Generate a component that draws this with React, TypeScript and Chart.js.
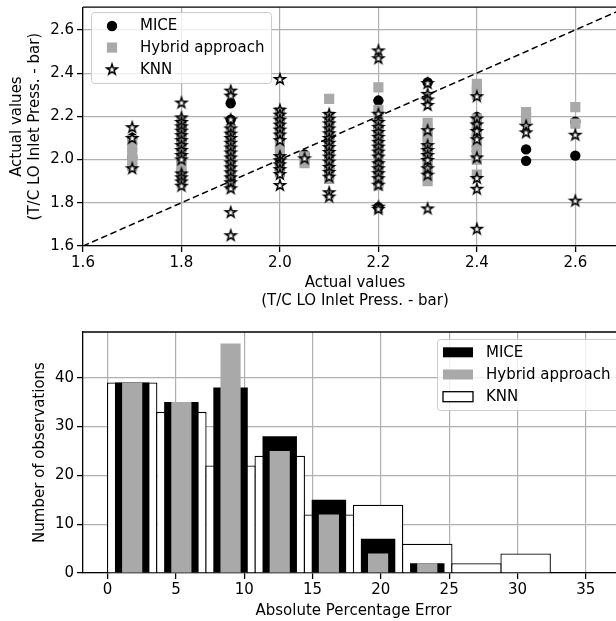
import React, { useEffect, useRef } from 'react';
import { Chart, registerables } from 'chart.js';

Chart.register(...registerables);

// ---------- Top panel: actual vs imputed values ----------
const actualLevels = [1.7, 1.8, 1.9, 2.0, 2.05, 2.1, 2.2, 2.3, 2.4, 2.5, 2.6];

const micePred = [
  [2.10, 2.01],
  [2.15, 2.09, 2.02, 1.94],
  [2.26, 2.185, 2.12, 2.05, 1.97, 1.92],
  [2.20, 2.12, 2.00, 1.95],
  [2.024],
  [2.17, 2.10, 2.03, 1.96],
  [2.273, 2.15, 2.06, 1.98, 1.78],
  [2.357, 2.06, 2.00],
  [2.197, 2.17, 2.14, 2.11, 2.06, 2.04, 2.01],
  [2.047, 1.994],
  [2.175, 2.018],
];

const hybridPred = [
  [2.09, 2.06, 2.03, 2.00, 1.97],
  [2.18, 2.15, 2.12, 2.09, 2.06, 2.03, 2.00, 1.97, 1.94, 1.93],
  [2.14, 2.11, 2.08, 2.05, 2.02, 1.99, 1.96, 1.93, 1.90, 1.88],
  [2.22, 2.19, 2.16, 2.13, 2.10, 2.07, 2.04, 2.01, 1.98, 1.95, 1.94],
  [2.015, 1.983],
  [2.281, 2.20, 2.17, 2.14, 2.11, 2.08, 2.05, 2.02, 1.99, 1.96, 1.93, 1.91],
  [2.334, 2.23, 2.20, 2.17, 2.14, 2.11, 2.08, 2.05, 2.02, 1.99, 1.96, 1.93, 1.90, 1.88],
  [2.17, 2.14, 2.11, 2.08, 2.05, 2.02, 1.99, 1.96, 1.93, 1.90],
  [2.35, 2.32, 2.30, 2.19, 2.16, 2.13, 2.10, 2.07, 2.04, 2.01, 2.00, 1.93],
  [2.22, 2.19],
  [2.243, 2.166],
];

const knnPred = [
  [2.15, 2.10, 1.96],
  [2.264, 2.195, 2.174, 2.154, 2.134, 2.113, 2.09, 2.067, 2.044, 2.021, 2.001, 1.936, 1.918, 1.899, 1.879],
  [2.319, 2.296, 2.186, 2.144, 2.12, 2.10, 2.078, 2.056, 2.033, 2.01, 1.987, 1.964, 1.941, 1.918, 1.895, 1.867, 1.757, 1.65],
  [2.373, 2.231, 2.208, 2.185, 2.162, 2.139, 2.116, 2.09, 2.016, 1.997, 1.978, 1.956, 1.933, 1.882],
  [2.006],
  [2.211, 2.189, 2.168, 2.144, 2.122, 2.10, 2.078, 2.058, 2.035, 2.014, 1.991, 1.966, 1.943, 1.921, 1.849, 1.829],
  [2.505, 2.469, 2.212, 2.174, 2.151, 2.128, 2.105, 2.082, 2.06, 2.037, 2.014, 1.983, 1.96, 1.937, 1.914, 1.884, 1.782, 1.772],
  [2.354, 2.304, 2.278, 2.253, 2.136, 2.067, 2.044, 2.021, 1.998, 1.96, 1.93, 1.774],
  [2.293, 2.19, 2.163, 2.132, 2.094, 2.01, 1.915, 1.865, 1.68],
  [2.157, 2.126],
  [2.115, 1.81],
];

const identityLine = [1.6, 2.8];
const scatterXTicks = [1.6, 1.8, 2.0, 2.2, 2.4, 2.6];
const scatterYTicks = [1.6, 1.8, 2.0, 2.2, 2.4, 2.6];

// ---------- Bottom panel: histogram of absolute percentage error ----------
const binEdges = [0, 3.6, 7.2, 10.8, 14.4, 18, 21.6, 25.2, 28.8, 32.4, 36];
const miceCounts = [39, 35, 38, 28, 15, 7, 2, 0, 0, 0];
const hybridCounts = [39, 35, 47, 25, 12, 4, 2, 0, 0, 0];
const knnCounts = [39, 33, 22, 24, 12, 14, 6, 2, 4, 0];
const histXTicks = [0, 5, 10, 15, 20, 25, 30, 35];
const histYTicks = [0, 10, 20, 30, 40];

const FONT_FAMILY = '"DejaVu Sans", sans-serif';
const FONT_SIZE = 15;

function makeStar(): HTMLCanvasElement {
  const c = document.createElement('canvas');
  c.width = 16;
  c.height = 16;
  const g = c.getContext('2d')!;
  const cx = 8, cy = 8.4, R = 5.6, r = R * 0.382;
  g.beginPath();
  for (let k = 0; k < 10; k++) {
    const rad = k % 2 === 0 ? R : r;
    const a = -Math.PI / 2 + (k * Math.PI) / 5;
    const px = cx + rad * Math.cos(a);
    const py = cy + rad * Math.sin(a);
    if (k === 0) g.moveTo(px, py);
    else g.lineTo(px, py);
  }
  g.closePath();
  g.fillStyle = '#ffffff';
  g.fill();
  g.lineWidth = 1.45;
  g.lineJoin = 'miter';
  g.strokeStyle = '#000000';
  g.stroke();
  return c;
}

function roundRectPath(ctx: CanvasRenderingContext2D, x: number, y: number, w: number, h: number, r: number) {
  ctx.moveTo(x + r, y);
  ctx.lineTo(x + w - r, y);
  ctx.arcTo(x + w, y, x + w, y + r, r);
  ctx.lineTo(x + w, y + h - r);
  ctx.arcTo(x + w, y + h, x + w - r, y + h, r);
  ctx.lineTo(x + r, y + h);
  ctx.arcTo(x, y + h, x, y + h - r, r);
  ctx.lineTo(x, y + r);
  ctx.arcTo(x, y, x + r, y, r);
  ctx.closePath();
}

const boxLegend = {
  id: 'boxLegend',
  afterDraw(chart: any, _args: any, opts: any) {
    if (!opts || !opts.display) return;
    const ctx: CanvasRenderingContext2D = chart.ctx;
    const { left, top, width, height, firstRow, rowGap, markerX, textX, patchW, patchH } = opts;
    ctx.save();
    ctx.beginPath();
    roundRectPath(ctx, left + 0.5, top + 0.5, width, height, 3);
    ctx.fillStyle = 'rgba(255,255,255,0.8)';
    ctx.fill();
    ctx.lineWidth = 1;
    ctx.strokeStyle = '#cccccc';
    ctx.stroke();
    const items = chart.data.datasets.filter((d: any) => d.label);
    ctx.font = `${FONT_SIZE}px ${FONT_FAMILY}`;
    ctx.textBaseline = 'middle';
    ctx.textAlign = 'left';
    items.forEach((d: any, k: number) => {
      const y = top + firstRow + k * rowGap;
      if (chart.config.type === 'bar') {
        ctx.fillStyle = d.backgroundColor;
        ctx.fillRect(markerX - patchW / 2, y - patchH / 2, patchW, patchH);
        if (d.borderWidth) {
          ctx.lineWidth = d.borderWidth;
          ctx.strokeStyle = d.borderColor;
          ctx.strokeRect(markerX - patchW / 2, y - patchH / 2, patchW, patchH);
        }
      } else {
        const ps = d.pointStyle;
        if (ps && typeof ps === 'object') {
          ctx.drawImage(ps, markerX - ps.width / 2, y - ps.height / 2);
        } else if (ps === 'rect') {
          const s = d.pointRadius * Math.SQRT1_2;
          ctx.fillStyle = d.pointBackgroundColor;
          ctx.fillRect(markerX - s, y - s, 2 * s, 2 * s);
        } else {
          ctx.beginPath();
          ctx.arc(markerX, y, d.pointRadius, 0, Math.PI * 2);
          ctx.fillStyle = d.pointBackgroundColor;
          ctx.fill();
        }
      }
      ctx.fillStyle = '#000';
      ctx.fillText(d.label, textX, y + 0.5);
    });
    ctx.restore();
  },
};

const frame = {
  id: 'frame',
  afterDatasetsDraw(chart: any) {
    const { ctx, chartArea: a } = chart;
    ctx.save();
    ctx.strokeStyle = '#000';
    ctx.lineWidth = 1.3;
    ctx.beginPath();
    ctx.moveTo(a.left, a.top);
    ctx.lineTo(a.right, a.top);
    ctx.lineTo(a.right, a.bottom);
    ctx.stroke();
    ctx.restore();
  },
};

export default function App() {
  const topRef = useRef<HTMLCanvasElement>(null);
  const botRef = useRef<HTMLCanvasElement>(null);

  useEffect(() => {
    Chart.defaults.font.family = FONT_FAMILY;
    Chart.defaults.font.size = FONT_SIZE;
    Chart.defaults.color = '#000';

    const star = makeStar();
    const toPoints = (pred: number[][]) =>
      pred.flatMap((ys, i) => ys.map((y) => ({ x: actualLevels[i], y })));
    const font = { family: FONT_FAMILY, size: FONT_SIZE, lineHeight: 1.2 };
    const gridOpts = { color: '#b0b0b0', lineWidth: 1.2, tickColor: '#000', tickLength: 6, tickWidth: 1.3 };
    const borderOpts = { color: '#000', width: 1.3 };

    const topChart = new Chart(topRef.current!, {
      type: 'scatter',
      data: {
        datasets: [
          {
            label: 'MICE',
            data: toPoints(micePred),
            pointStyle: 'circle',
            pointRadius: 5.2,
            pointBackgroundColor: '#000',
            pointBorderColor: '#000',
            pointBorderWidth: 0,
            order: 4,
          },
          {
            label: 'Hybrid approach',
            data: toPoints(hybridPred),
            pointStyle: 'rect',
            pointRadius: 7.2,
            pointBackgroundColor: '#a9a9a9',
            pointBorderColor: '#a9a9a9',
            pointBorderWidth: 0,
            order: 3,
          },
          {
            label: 'KNN',
            data: toPoints(knnPred),
            pointStyle: star as any,
            pointRadius: 5,
            order: 2,
          },
          {
            data: identityLine.map((v) => ({ x: v, y: v })),
            showLine: true,
            pointRadius: 0,
            borderColor: '#000',
            borderWidth: 1.5,
            borderDash: [6.5, 3.5],
            fill: false,
            order: 1,
          } as any,
        ],
      },
      options: {
        responsive: false,
        animation: false,
        events: [],
        layout: { padding: { top: 5, right: 33, bottom: 0, left: 0 } },
        plugins: {
          legend: { display: false },
          tooltip: { enabled: false },
          boxLegend: {
            display: true,
            left: 91, top: 12, width: 180, height: 71,
            firstRow: 14, rowGap: 21.6, markerX: 112, textX: 140,
          },
        } as any,
        scales: {
          x: {
            type: 'linear',
            min: 1.6,
            max: 2.705,
            afterBuildTicks: (s: any) => { s.ticks = scatterXTicks.map((v) => ({ value: v })); },
            afterFit: (s: any) => { s.height = 64; s.paddingLeft = 0; s.paddingRight = 0; },
            ticks: { callback: (v: any) => Number(v).toFixed(1), padding: 2, maxRotation: 0, autoSkip: false, font, color: '#000' },
            grid: gridOpts,
            border: borderOpts,
            title: { display: true, text: ['Actual values', '(T/C LO Inlet Press. - bar)'], font, color: '#000', padding: { top: 0, bottom: 0 } },
          },
          y: {
            type: 'linear',
            min: 1.6,
            max: 2.705,
            afterBuildTicks: (s: any) => { s.ticks = scatterYTicks.map((v) => ({ value: v })); },
            afterFit: (s: any) => { s.width = 83; s.paddingTop = 0; s.paddingBottom = 0; },
            ticks: { callback: (v: any) => Number(v).toFixed(1), padding: 3, autoSkip: false, font, color: '#000' },
            grid: gridOpts,
            border: borderOpts,
            title: { display: true, text: ['Actual values', '(T/C LO Inlet Press. - bar)'], font, color: '#000', padding: { top: 8, bottom: 0 } },
          },
        },
      } as any,
      plugins: [boxLegend, frame],
    });

    const binCenters = binEdges.slice(0, -1).map((e, i) => (e + binEdges[i + 1]) / 2);
    const toBars = (counts: number[]) => counts.map((c, i) => ({ x: binCenters[i], y: c }));

    const botChart = new Chart(botRef.current!, {
      type: 'bar',
      data: {
        datasets: [
          {
            label: 'MICE',
            data: toBars(miceCounts),
            backgroundColor: '#000',
            borderWidth: 0,
            barPercentage: 0.7,
            categoryPercentage: 1,
            grouped: false,
            order: 2,
          },
          {
            label: 'Hybrid approach',
            data: toBars(hybridCounts),
            backgroundColor: '#a9a9a9',
            borderWidth: 0,
            barPercentage: 0.41,
            categoryPercentage: 1,
            grouped: false,
            order: 1,
          },
          {
            label: 'KNN',
            data: toBars(knnCounts),
            backgroundColor: '#fff',
            borderColor: '#000',
            borderWidth: 1.3,
            barPercentage: 1.026,
            categoryPercentage: 1,
            grouped: false,
            order: 3,
          },
        ] as any,
      },
      options: {
        responsive: false,
        animation: false,
        events: [],
        layout: { padding: { top: 22, right: 36, bottom: 0, left: 0 } },
        plugins: {
          legend: { display: false },
          tooltip: { enabled: false },
          boxLegend: {
            display: true,
            left: 437, top: 29, width: 200, height: 71,
            firstRow: 13.3, rowGap: 22.2, markerX: 458, textX: 486, patchW: 30, patchH: 10,
          },
        } as any,
        scales: {
          x: {
            type: 'linear',
            min: -1.8,
            max: 37.8,
            offset: false,
            afterBuildTicks: (s: any) => { s.ticks = histXTicks.map((v) => ({ value: v })); },
            afterFit: (s: any) => { s.height = 48; s.paddingLeft = 0; s.paddingRight = 0; },
            ticks: { callback: (v: any) => String(v), padding: 2, maxRotation: 0, autoSkip: false, font, color: '#000' },
            grid: { ...gridOpts, offset: false },
            border: borderOpts,
            title: { display: true, text: 'Absolute Percentage Error', font, color: '#000', padding: { top: 0, bottom: 1 } },
          },
          y: {
            type: 'linear',
            min: 0,
            max: 49.35,
            afterBuildTicks: (s: any) => { s.ticks = histYTicks.map((v) => ({ value: v })); },
            afterFit: (s: any) => { s.width = 83; s.paddingTop = 0; s.paddingBottom = 0; },
            ticks: { callback: (v: any) => String(v), padding: 3, autoSkip: false, font, color: '#000' },
            grid: gridOpts,
            border: borderOpts,
            title: { display: true, text: 'Number of observations', font, color: '#000', padding: { top: 31, bottom: 0 } },
          },
        },
      } as any,
      plugins: [boxLegend, frame],
    });

    return () => {
      topChart.destroy();
      botChart.destroy();
    };
  }, []);

  return (
    <div
      style={{
        position: 'fixed',
        left: 0,
        top: 0,
        width: 616,
        height: 621,
        overflow: 'hidden',
        background: '#fff',
      }}
    >
      <canvas ref={topRef} width={660} height={310} style={{ position: 'absolute', left: 0, top: 0 }} />
      <canvas ref={botRef} width={660} height={311} style={{ position: 'absolute', left: 0, top: 310 }} />
    </div>
  );
}
